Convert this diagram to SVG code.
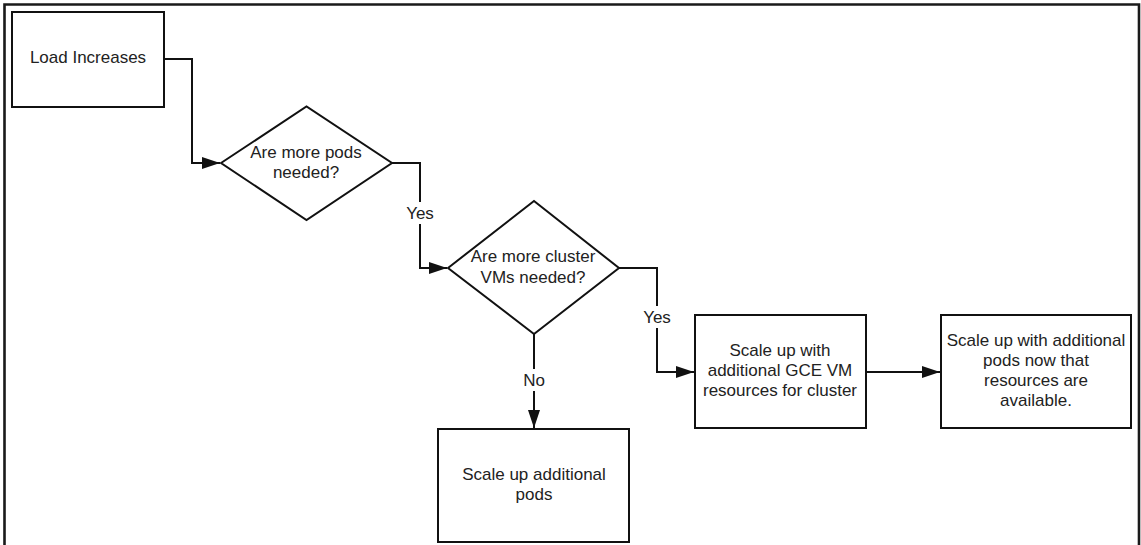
<svg xmlns="http://www.w3.org/2000/svg" width="1141" height="545" viewBox="0 0 1141 545">
<style>
.shape{fill:#fff;stroke:#111;stroke-width:2}
.txt{font-family:"Liberation Sans",Arial,sans-serif;font-size:17px;fill:#222;text-anchor:middle}
.conn{fill:none;stroke:#111;stroke-width:2}
.lblbg{fill:#fff;stroke:none}
</style>
<defs>
<marker id="arrow" markerUnits="userSpaceOnUse" markerWidth="18" markerHeight="12" refX="18" refY="6" orient="auto">
<path d="M0,0 L18,6 L0,12 z" fill="#111"/>
</marker>
</defs>
<rect width="1141" height="545" fill="#fff"/>
<path d="M4.5,545 V4.5 H1139 V545" fill="none" stroke="#1a1a1a" stroke-width="2.6"/>
<g id="connectors">
<path class="conn" d="M164,59 H192 V163 H220" marker-end="url(#arrow)"/>
<path class="conn" d="M392,163 H420 V268 H447" marker-end="url(#arrow)"/>
<path class="conn" d="M619,268 H657 V372 H694" marker-end="url(#arrow)"/>
<path class="conn" d="M866,372 H940" marker-end="url(#arrow)"/>
<path class="conn" d="M534,334 V428" marker-end="url(#arrow)"/>
<rect class="lblbg" x="404" y="202" width="32" height="22"/>
<text class="txt" x="420" y="219">Yes</text>
<rect class="lblbg" x="641" y="306" width="32" height="22"/>
<text class="txt" x="657" y="323">Yes</text>
<rect class="lblbg" x="521" y="369" width="26" height="22"/>
<text class="txt" x="534" y="386">No</text>
</g>
<g id="load-increases">
<rect class="shape" x="12" y="12" width="152" height="95"/>
<text class="txt" x="88" y="63">Load Increases</text>
</g>
<g id="more-pods">
<path class="shape" d="M221,163 L306.5,106.5 L392,163 L306.5,220 z"/>
<text class="txt" x="306" y="157.5">Are more pods</text>
<text class="txt" x="306" y="177.5">needed?</text>
</g>
<g id="more-vms">
<path class="shape" d="M448,268 L534,201 L619,268 L534,334 z"/>
<text class="txt" x="533" y="262">Are more cluster</text>
<text class="txt" x="533" y="282.5">VMs needed?</text>
</g>
<g id="scale-vms">
<rect class="shape" x="695" y="315" width="171" height="113"/>
<text class="txt" x="780" y="356">Scale up with</text>
<text class="txt" x="780" y="376">additional GCE VM</text>
<text class="txt" x="780" y="396">resources for cluster</text>
</g>
<g id="scale-pods-after">
<rect class="shape" x="941" y="315" width="190" height="113"/>
<text class="txt" x="1036" y="346">Scale up with additional</text>
<text class="txt" x="1036" y="366">pods now that</text>
<text class="txt" x="1036" y="386">resources are</text>
<text class="txt" x="1036" y="406">available.</text>
</g>
<g id="scale-pods">
<rect class="shape" x="438" y="429" width="191" height="113"/>
<text class="txt" x="534" y="480">Scale up additional</text>
<text class="txt" x="534" y="500">pods</text>
</g>
</svg>
